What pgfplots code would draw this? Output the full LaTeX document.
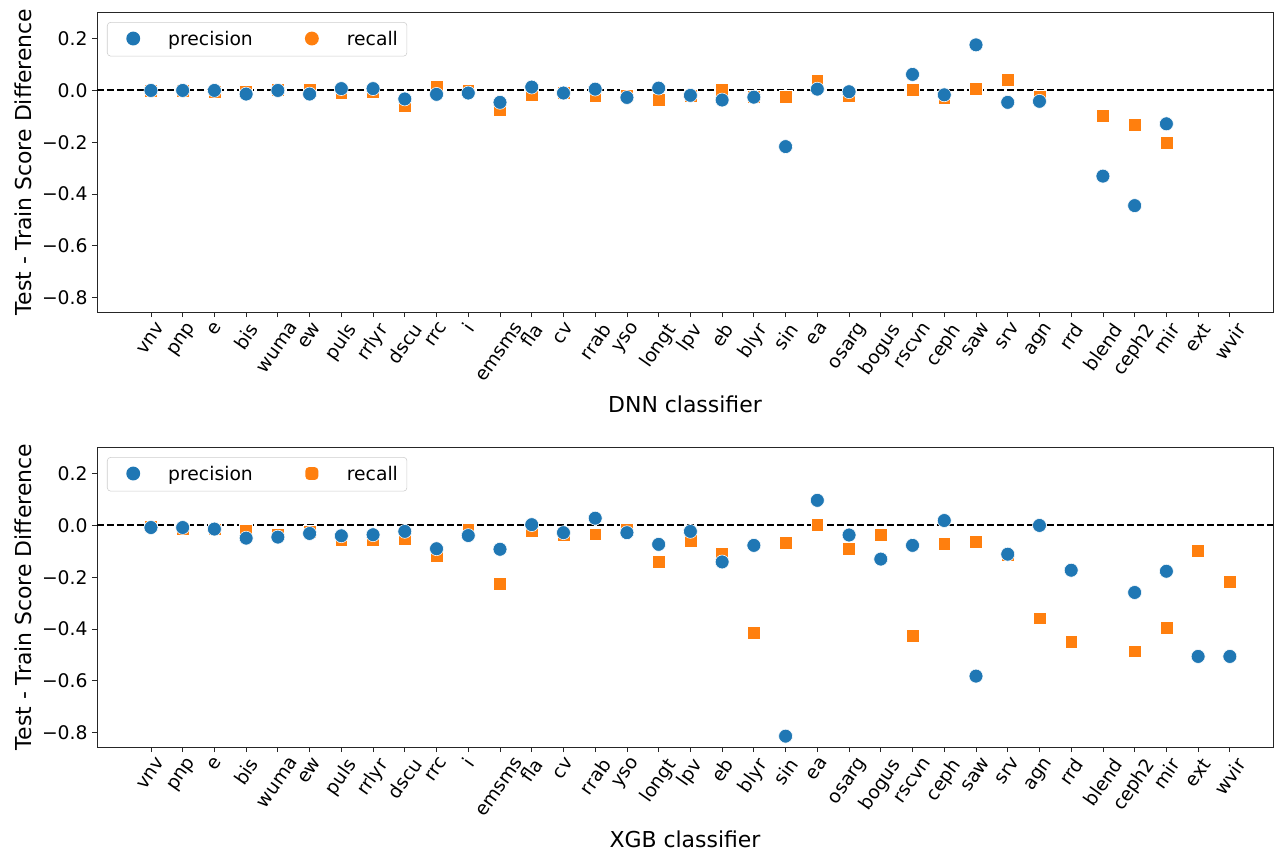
\documentclass[border=0pt]{standalone}
\usepackage{fontspec}
\setmainfont{DejaVu Sans}
\usepackage{graphicx}
\usepackage{pgfplots}
\pgfplotsset{compat=1.18}
\definecolor{c0}{HTML}{1F77B4}
\definecolor{c1}{HTML}{FF7F0E}
\newcommand{\rl}[1]{\rotatebox{55}{#1}}
\newcommand{\fs}{\fontsize{13.5}{16}\selectfont}
\newcommand{\fl}{\fontsize{15.8}{19}\selectfont}

\pgfplotsset{
  scoreaxis/.style={
    scale only axis, width=846.72pt, height=216pt,
    xmin=-1.7, xmax=35.36, ymin=-0.856, ymax=0.303,
    xtick={0,...,34},
    xticklabels={\rl{vnv},\rl{pnp},\rl{e},\rl{bis},\rl{wuma},\rl{ew},\rl{puls},\rl{rrlyr},\rl{dscu},\rl{rrc},\rl{i},\rl{emsms},\rl{fla},\rl{cv},\rl{rrab},\rl{yso},\rl{longt},\rl{lpv},\rl{eb},\rl{blyr},\rl{sin},\rl{ea},\rl{osarg},\rl{bogus},\rl{rscvn},\rl{ceph},\rl{saw},\rl{srv},\rl{agn},\rl{rrd},\rl{blend},\rl{ceph2},\rl{mir},\rl{ext},\rl{wvir}},
    ytick={-0.8,-0.6,-0.4,-0.2,0,0.2},
    yticklabels={−0.8,−0.6,−0.4,−0.2,0.0,0.2},
    tick align=outside, xtick pos=bottom, ytick pos=left,
    major tick length=3.6pt,
    tick style={black!85, line width=0.6pt},
    axis line style={black!85, line width=0.6pt},
    xticklabel style={anchor=north, inner sep=0pt, yshift=-3pt, font=\fs},
    yticklabel style={anchor=east, inner xsep=0pt, xshift=-3pt, font=\fs},
    ylabel={Test - Train Score Difference},
    ylabel style={at={(axis description cs:-0.0625,0.5)}, anchor=center, font=\fl},
    xlabel style={at={(axis description cs:0.5,-0.309)}, anchor=center, font=\fl},
    legend columns=2,
    legend style={at={(axis description cs:0,1)}, anchor=north west,
      xshift=7.2pt, yshift=-7.2pt, draw=black!20, rounded corners=2.5pt,
      fill=white, inner xsep=6.5pt, inner ysep=0pt, column sep=0pt,
      nodes={inner sep=0pt}, font=\fs},
    legend cell align=left,
    prec/.style={only marks, mark=*, mark size=5pt,
      mark options={fill=c0, draw=white, line width=0.4pt}},
    recsq/.style={only marks, mark=square*, mark size=4.6pt,
      mark options={fill=c1, draw=white, line width=0.4pt}},
    zeroline/.style={black, line width=1.4pt, dash pattern=on 5pt off 2.2pt},
  },
  legA/.style={legend image code/.code={
      \path[draw=none, fill=none] (0pt,-12.2pt) rectangle (37.4pt,12.2pt);
      \fill[##1, draw=none] (12.2pt,0.05em) circle (5pt);}},
  legB/.style={legend image code/.code={
      \path[draw=none, fill=none] (0pt,-12.2pt) rectangle (67.7pt,12.2pt);
      \fill[##1, draw=none] (42.5pt,0.05em) circle (5pt);}},
  legBsq/.style={legend image code/.code={
      \path[draw=none, fill=none] (0pt,-12.2pt) rectangle (67.7pt,12.2pt);
      \fill[##1, draw=none] (37.9pt,0.05em-4.6pt) rectangle (47.1pt,0.05em+4.6pt);}},
}

\begin{document}
\begin{tikzpicture}
\begin{axis}[scoreaxis, at={(0,0)}, anchor=north west, xlabel={DNN classifier}]
  \addplot[zeroline, forget plot] coordinates {(-1.7,0) (35.36,0)};
  \addlegendimage{legA, c0}
  \addlegendentry{precision}
  \addlegendimage{legB, c1}
  \addlegendentry{recall}
  % recall (DNN)
  \addplot[recsq, forget plot] coordinates {
    (0,-0.002) (1,0.000) (2,-0.005) (3,-0.005) (4,0.002) (5,0.003) (6,-0.010)
    (7,-0.004) (8,-0.060) (9,0.013) (10,-0.002) (11,-0.077) (12,-0.017) (13,-0.010)
    (14,-0.020) (15,-0.020) (16,-0.036) (17,-0.022) (18,0.003) (19,-0.026) (20,-0.026)
    (21,0.039) (22,-0.022) (24,0.003) (25,-0.030) (26,0.005) (27,0.041) (28,-0.026)
    (30,-0.098) (31,-0.133) (32,-0.201)
  };
  % precision (DNN)
  \addplot[prec, forget plot] coordinates {
    (0,0.000) (1,0.000) (2,0.000) (3,-0.014) (4,0.000) (5,-0.014) (6,0.007)
    (7,0.007) (8,-0.033) (9,-0.015) (10,-0.010) (11,-0.046) (12,0.013) (13,-0.010)
    (14,0.005) (15,-0.027) (16,0.009) (17,-0.019) (18,-0.037) (19,-0.026) (20,-0.217)
    (21,0.005) (22,-0.005) (24,0.062) (25,-0.017) (26,0.176) (27,-0.046) (28,-0.042)
    (30,-0.331) (31,-0.445) (32,-0.129)
  };
\end{axis}

\begin{axis}[scoreaxis, at={(0,-313.2pt)}, anchor=north west, xlabel={XGB classifier}]
  \addplot[zeroline, forget plot] coordinates {(-1.7,0) (35.36,0)};
  \addlegendimage{legA, c0}
  \addlegendentry{precision}
  \addlegendimage{legBsq, c1}
  \addlegendentry{recall}
  % recall (XGB)
  \addplot[recsq, forget plot] coordinates {
    (0,-0.003) (1,-0.015) (2,-0.015) (3,-0.020) (4,-0.037) (5,-0.025) (6,-0.057)
    (7,-0.057) (8,-0.052) (9,-0.116) (10,-0.018) (11,-0.224) (12,-0.021) (13,-0.037)
    (14,-0.034) (15,-0.015) (16,-0.139) (17,-0.059) (18,-0.108) (19,-0.414) (20,-0.067)
    (21,0.003) (22,-0.089) (23,-0.037) (24,-0.426) (25,-0.070) (26,-0.064) (27,-0.115)
    (28,-0.359) (29,-0.449) (31,-0.486) (32,-0.396) (33,-0.098) (34,-0.218)
  };
  % precision (XGB)
  \addplot[prec, forget plot] coordinates {
    (0,-0.008) (1,-0.008) (2,-0.014) (3,-0.049) (4,-0.045) (5,-0.031) (6,-0.040)
    (7,-0.036) (8,-0.023) (9,-0.090) (10,-0.039) (11,-0.092) (12,0.003) (13,-0.028)
    (14,0.028) (15,-0.028) (16,-0.073) (17,-0.023) (18,-0.141) (19,-0.077) (20,-0.814)
    (21,0.097) (22,-0.037) (23,-0.130) (24,-0.077) (25,0.019) (26,-0.582) (27,-0.111)
    (28,0.000) (29,-0.173) (31,-0.259) (32,-0.177) (33,-0.506) (34,-0.506)
  };
\end{axis}
\pgfresetboundingbox
\path (-69.84pt,8.64pt) rectangle (848.16pt,-604.8pt);
\end{tikzpicture}
\end{document}
